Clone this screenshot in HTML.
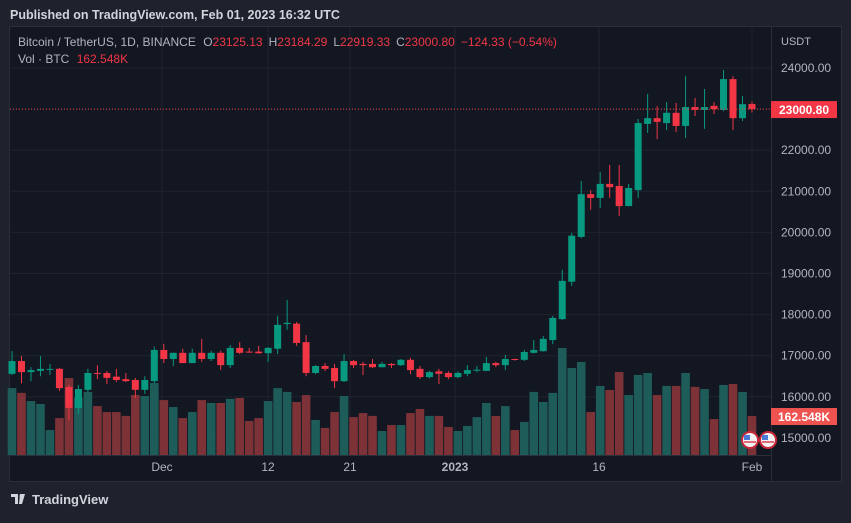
<!DOCTYPE html>
<html><head><meta charset="utf-8"><style>
body{margin:0;width:851px;height:518px;background:#1e222d;overflow:hidden;font-family:"Liberation Sans",sans-serif}
</style></head><body>
<svg id="c" width="851" height="518" xmlns="http://www.w3.org/2000/svg">
<rect x="0" y="0" width="851" height="518" fill="#1e222d"/>
<text x="10" y="19" fill="#d1d4dc" font-size="12.5" font-weight="bold">Published on TradingView.com, Feb 01, 2023 16:32 UTC</text>
<rect x="9.5" y="26.5" width="832" height="455" fill="#131722" stroke="#2a2e39"/>
<g id="grid"></g>
<g id="vol"></g>
<g id="candles"></g>
<g id="axis"></g>
<g id="taxis"></g>
<text x="18" y="46" font-size="12" fill="#b2b5be">Bitcoin / TetherUS, 1D, BINANCE <tspan dx="4">O</tspan><tspan fill="#f23645">23125.13</tspan><tspan dx="6">H</tspan><tspan fill="#f23645">23184.29</tspan><tspan dx="6">L</tspan><tspan fill="#f23645">22919.33</tspan><tspan dx="6">C</tspan><tspan fill="#f23645">23000.80</tspan><tspan dx="6" fill="#f23645">−124.33 (−0.54%)</tspan></text>
<text x="18" y="63" font-size="12" fill="#b2b5be">Vol · BTC <tspan dx="4" fill="#f23645">162.548K</tspan></text>
<text x="781" y="45" font-size="11" fill="#b2b5be">USDT</text>
<g>
<path d="M11 494h7v10h-3v-7h-4z M20 494l-1 10h3l3-10z" fill="#d1d4dc"/>
<circle cx="21" cy="496" r="1.5" fill="#d1d4dc"/>
<text x="32" y="504" font-size="13" font-weight="bold" fill="#d1d4dc">TradingView</text>
</g>
</svg>
<script>
const opens=[16560,16870,16600,16630,16660,16680,16240,15730,16170,16580,16580,16490,16430,16410,16170,16380,17140,16920,17070,16820,17070,16920,17070,16770,17190,17100,17100,17060,17170,17770,17780,17330,16580,16750,16700,16380,16870,16800,16800,16720,16800,16770,16900,16680,16480,16620,16580,16480,16560,16640,16630,16820,16770,16920,16900,17070,17110,17380,17890,18800,19890,20930,20840,21180,21130,20640,21030,22640,22780,22660,22910,22590,23050,22980,23080,22980,23730,22780,23125];
const highs=[17110,16990,16720,16990,16800,16700,16290,16290,16680,16770,16630,16680,16580,16460,16500,17220,17290,17070,17170,17170,17410,17120,17120,17260,17330,17190,17240,17210,17970,18360,17820,17500,16770,16820,16800,17040,16900,16850,16920,16850,16820,16920,16950,16750,16630,16680,16620,16620,16770,16750,16970,16850,17020,16930,17140,17380,17480,17970,19090,19990,21250,21030,21470,21640,21640,21180,22760,23370,23070,23170,23150,23800,23270,23490,23170,23950,23800,23320,23184];
const lows=[16530,16330,16380,16500,16530,16140,15440,15580,16120,16430,16310,16360,16360,15970,16070,16330,16820,16750,16820,16820,16850,16870,16650,16700,17040,17070,17050,16850,17040,17630,17240,16500,16550,16630,16210,16360,16700,16530,16700,16720,16700,16750,16550,16430,16450,16310,16430,16450,16500,16600,16630,16720,16650,16880,16870,17050,17100,17280,17870,18700,19860,20550,20590,20840,20400,20640,20840,22420,22270,22490,22440,22300,22830,22520,22880,22950,22490,22710,22919];
const closes=[16870,16600,16650,16680,16680,16210,15730,16190,16580,16560,16460,16410,16380,16170,16410,17140,16920,17070,16820,17070,16920,17070,16770,17190,17070,17090,17060,17190,17750,17800,17310,16580,16750,16680,16380,16870,16770,16770,16720,16800,16770,16900,16650,16480,16600,16560,16480,16580,16650,16660,16820,16770,16920,16900,17090,17140,17410,17920,18820,19920,20930,20840,21180,21100,20640,21080,22660,22780,22690,22910,22590,23050,22980,23050,23000,23730,22780,23120,23000.8];
const volumes=[279,259,225,213,104,154,321,238,263,204,179,179,163,250,246,300,229,200,154,179,229,217,217,234,238,142,154,225,279,263,221,250,146,113,179,246,158,175,163,100,125,125,175,192,163,163,117,100,121,158,217,163,204,104,138,263,221,259,446,363,388,179,288,271,346,250,334,342,250,288,288,342,284,275,150,292,296,263,162.548];
const priceTicks=[24000,23000,22000,21000,20000,19000,18000,17000,16000,15000];
const timeLabels=["Dec","12","21","2023","16","Feb"];
const timeLabelIdx=[17,28,37,48,63,79];

const NS="http://www.w3.org/2000/svg";
const x0=12,step=9.487;
const X=i=>x0+i*step;
const Y=p=>68+(24000-p)*0.0411;
const VY=v=>455-v/4.17;
function mk(tag,attrs,parent){const e=document.createElementNS(NS,tag);for(const k in attrs)e.setAttribute(k,attrs[k]);parent.appendChild(e);return e;}
const grid=document.getElementById('grid'),vol=document.getElementById('vol'),cg=document.getElementById('candles'),ax=document.getElementById('axis'),ta=document.getElementById('taxis');
priceTicks.forEach(p=>{
  const l=mk('line',{x1:10,x2:771,y1:Y(p),y2:Y(p),stroke:'#1f232e','stroke-width':1},grid);
  
  
  const t=mk('text',{x:781,y:Y(p)+4,'font-size':12,fill:'#b2b5be'},ax);
  t.textContent=p.toFixed(2);
  
  
});
timeLabels.forEach((s,k)=>{
  const x=X(timeLabelIdx[k]-1)+(k==5?0:0);
  const xx=[162,268,350,455,599,752][k];
  const l=mk('line',{x1:xx,x2:xx,y1:27,y2:455,stroke:'#1f232e','stroke-width':1},grid);
  
  
  const t=mk('text',{x:xx,y:471,'font-size':12,fill:'#b2b5be','text-anchor':'middle','font-weight':s=="2023"?'bold':'normal'},ta);
  t.textContent=s;
  
  
});
mk('line',{x1:771.5,x2:771.5,y1:27,y2:481,stroke:'#2a2e39'},grid);
mk('line',{x1:10,x2:771,y1:455.5,y2:455.5,stroke:'#2a2e39'},grid);
opens.forEach((o,i)=>{
  const c=closes[i],up=c>=o,x=X(i);
  const v=mk('rect',{x:x-4.3,y:VY(volumes[i]),width:8.6,height:455-VY(volumes[i]),fill:up?'#1e5c5a':'#7c3237'},vol);
  
  
  const col=up?'#089981':'#f23645';
  const w=mk('line',{x1:x,x2:x,y1:Y(highs[i]),y2:Y(lows[i]),stroke:col,'stroke-width':1},cg);
  
  
  const top=Y(Math.max(o,c)),bot=Y(Math.min(o,c));
  const b=mk('rect',{x:x-3.5,y:top,width:7,height:Math.max(1,bot-top),fill:col},cg);
  
  
});
const last=closes[closes.length-1];
const pl=mk('line',{x1:10,x2:771,y1:Y(last),y2:Y(last),stroke:'#f23645','stroke-dasharray':'1 2'},cg);


const lb=mk('rect',{x:771,y:Y(last)-8,width:66,height:17,fill:'#f23645'},ax);


const lt=mk('text',{x:804,y:Y(last)+5,'font-size':12,fill:'#fff','text-anchor':'middle','font-weight':'bold'},ax);
lt.textContent=last.toFixed(2);


const vv=volumes[volumes.length-1];
const vb=mk('rect',{x:771,y:VY(vv)-8,width:66,height:17,fill:'#ef5350'},ax);


const vt=mk('text',{x:804,y:VY(vv)+5,'font-size':12,fill:'#fff','text-anchor':'middle','font-weight':'bold'},ax);
vt.textContent=vv.toFixed(3)+'K';


[750,768].forEach(x=>{
  const g=mk('g',{},cg);
  
  
  mk('circle',{cx:x,cy:440,r:8,fill:'#f2f2f2',stroke:'#c8283a','stroke-width':2},g);
  mk('rect',{x:x-6,y:435,width:6,height:5,fill:'#4a7bd6'},g);
  mk('line',{x1:x-6,x2:x+6,y1:442,y2:442,stroke:'#e04050','stroke-width':1.5},g);
});
</script>
</body></html>
